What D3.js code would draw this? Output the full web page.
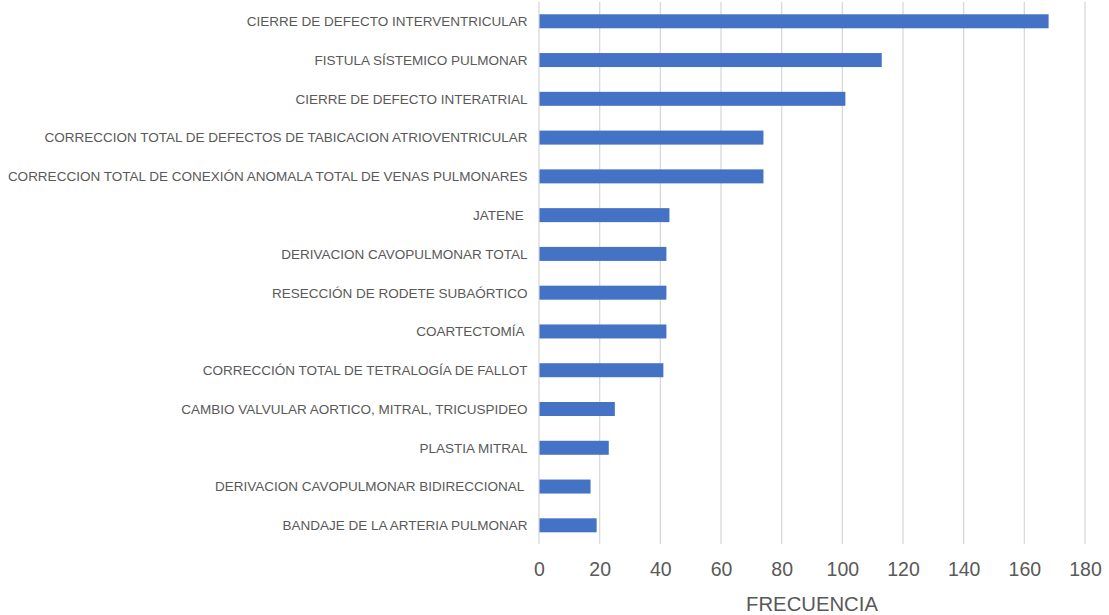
<!DOCTYPE html>
<html>
<head>
<meta charset="utf-8">
<script src="https://cdn.jsdelivr.net/npm/d3@7"></script>
<style>
  html, body { margin: 0; padding: 0; background: #ffffff; }
  svg { display: block; font-family: "Liberation Sans", Arial, sans-serif; }
</style>
</head>
<body>
<svg id="chart" width="1109" height="615"></svg>
<script>
const categories = [
  "CIERRE DE DEFECTO INTERVENTRICULAR",
  "FISTULA SÍSTEMICO PULMONAR",
  "CIERRE DE DEFECTO INTERATRIAL",
  "CORRECCION TOTAL DE DEFECTOS DE TABICACION ATRIOVENTRICULAR",
  "CORRECCION TOTAL DE CONEXIÓN ANOMALA TOTAL DE VENAS PULMONARES",
  "JATENE ",
  "DERIVACION CAVOPULMONAR TOTAL",
  "RESECCIÓN DE RODETE SUBAÓRTICO",
  "COARTECTOMÍA ",
  "CORRECCIÓN TOTAL DE TETRALOGÍA DE FALLOT",
  "CAMBIO VALVULAR AORTICO, MITRAL, TRICUSPIDEO",
  "PLASTIA MITRAL",
  "DERIVACION CAVOPULMONAR BIDIRECCIONAL ",
  "BANDAJE DE LA ARTERIA PULMONAR"
];
const frecuencia = [168, 113, 101, 74, 74, 43, 42, 42, 42, 41, 25, 23, 17, 19];
const xTicks = [0, 20, 40, 60, 80, 100, 120, 140, 160, 180];
const xTitle = "FRECUENCIA";

const svg = d3.select("#chart");
const plotLeft = 539, plotRight = 1085, plotTop = 1.9, plotBottom = 544.7;

const x = d3.scaleLinear().domain([0, 180]).range([plotLeft, plotRight]);
const y = d3.scaleBand().domain(categories).range([plotTop, plotBottom]).paddingInner(0.639).paddingOuter(0.3195);

// gridlines
svg.append("g").selectAll("line").data(xTicks).join("line")
  .attr("x1", d => x(d)).attr("x2", d => x(d))
  .attr("y1", 2).attr("y2", 544)
  .attr("stroke", "#d9d9d9").attr("stroke-width", 1.3);

// bars
svg.append("g").selectAll("rect").data(categories).join("rect")
  .attr("x", x(0) + 0.5)
  .attr("y", d => y(d))
  .attr("width", (d, i) => x(frecuencia[i]) - x(0) - 0.5)
  .attr("height", y.bandwidth())
  .attr("fill", "#4472C4");

// category labels
svg.append("g").selectAll("text").data(categories).join("text")
  .attr("x", plotLeft - 11.5)
  .attr("y", d => y(d) + y.bandwidth() / 2)
  .attr("dy", "0.36em")
  .attr("text-anchor", "end")
  .style("white-space", "pre")
  .attr("font-size", 13.5)
  .attr("fill", "#595959")
  .text(d => d);

// x tick labels
const xAxis = d3.axisBottom(x).tickValues(xTicks).tickSize(0).tickPadding(0);
const gx = svg.append("g").attr("transform", "translate(0,562)").call(xAxis);
gx.select(".domain").remove();
gx.selectAll("text")
  .attr("y", 0).attr("dy", "0.72em")
  .attr("font-size", 19.5)
  .attr("font-family", "'Liberation Sans', Arial, sans-serif")
  .attr("fill", "#595959");

// axis title
svg.append("text")
  .attr("x", (plotLeft + plotRight) / 2)
  .attr("y", 611)
  .attr("text-anchor", "middle")
  .attr("font-size", 20.3)
  .attr("fill", "#595959")
  .text(xTitle);
</script>
</body>
</html>
